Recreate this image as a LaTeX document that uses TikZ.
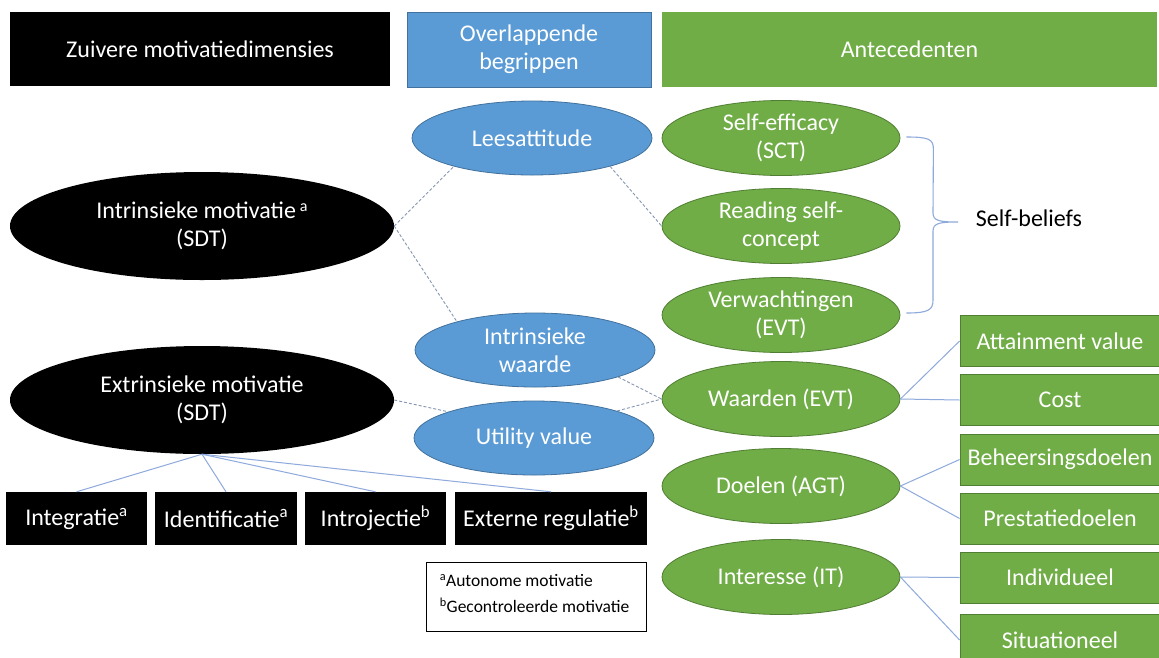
\documentclass[tikz,border=0pt]{standalone}
\usepackage{fontspec}
\setmainfont{Carlito}
\usetikzlibrary{shapes.geometric,calc}
\definecolor{bluef}{HTML}{5B9BD5}
\definecolor{blued}{HTML}{41719C}
\definecolor{greenf}{HTML}{70AD47}
\definecolor{greend}{HTML}{507E32}
\definecolor{linec}{HTML}{8EA9DB}
\definecolor{dashc}{HTML}{8497B0}
\begin{document}
\begin{tikzpicture}[x=1pt,y=-1pt,
  base/.style={font=\fontsize{24}{28}\selectfont, align=center, inner sep=0pt},
  blkbox/.style={base, rectangle, fill=black, text=white},
  hdrblue/.style={base, rectangle, fill=bluef, draw=blued, line width=0.8, text=white},
  hdrgreen/.style={base, rectangle, fill=greenf, text=white},
  blkell/.style={base, ellipse, fill=black, text=white, minimum width=384, minimum height=108},
  bell/.style={base, ellipse, fill=bluef, draw=blued, line width=0.8, text=white, minimum width=240, minimum height=74},
  gell/.style={base, ellipse, fill=greenf, draw=greend, line width=0.8, text=white, minimum width=238, minimum height=75},
  gbox/.style={base, rectangle, fill=greenf, draw=greend, line width=0.8, text=white, minimum width=200, minimum height=51},
  subbox/.style={base, rectangle, fill=black, text=white, minimum height=53},
  dashl/.style={draw=dashc, line width=0.9, dash pattern=on 3pt off 2pt},
  solidl/.style={draw=linec, line width=1},
  bracel/.style={draw=linec, line width=1.1}
]
\useasboundingbox (0,0) rectangle (1159,657);
\fill[white] (0,0) rectangle (1159,657);
\clip (0,0) rectangle (1159,657);

% headers
\node[blkbox, minimum width=380, minimum height=74] (h1) at (200,49) {Zuivere motivatiedimensies};
\node[hdrblue, minimum width=244, minimum height=75] (h2) at (529,49.5) {Overlappende\\begrippen};
\node[hdrgreen, minimum width=495, minimum height=75] (h3) at (909.5,49.5) {Antecedenten};

% blue ellipses
\node[bell] (la) at (532,138) {Leesattitude};
\node[bell] (iw) at (535,350) {Intrinsieke\\waarde};
\node[bell] (uv) at (534,438) {Utility value};

% black ellipses
\node[blkell] (im) at (202,226) {Intrinsieke motivatie\,{\fontsize{16}{16}\selectfont\raisebox{0.45em}{a}}\\(SDT)};
\node[blkell] (em) at (202,400) {Extrinsieke motivatie\\(SDT)};

% green ellipses
\node[gell] (se) at (781,138) {Self-efficacy\\(SCT)};
\node[gell] (rs) at (781,226) {Reading self-\\concept};
\node[gell] (vw) at (781,315) {Verwachtingen\\(EVT)};
\node[gell] (wd) at (781,399) {Waarden (EVT)};
\node[gell] (dl) at (781,486) {Doelen (AGT)};
\node[gell] (it) at (781,577) {Interesse (IT)};

% green boxes
\node[gbox] (av) at (1060,341) {Attainment value};
\node[gbox] (co) at (1060,400) {Cost};
\node[gbox] (bd) at (1060,459.5) {Beheersingsdoelen};
\node[gbox] (pd) at (1060,518.5) {Prestatiedoelen};
\node[gbox] (iv) at (1060,577.5) {Individueel};
\node[gbox] (si) at (1060,640) {Situationeel};

% black sub boxes
\node[subbox, minimum width=141] (ig) at (76.5,518.5) {Integratie\textsuperscript{a}};
\node[subbox, minimum width=142] (id) at (226,518.5) {Identificatie\textsuperscript{a}};
\node[subbox, minimum width=141] (ij) at (375.5,518.5) {Introjectie\textsuperscript{b}};
\node[subbox, minimum width=192] (er) at (551,518.5) {Externe regulatie\textsuperscript{b}};

% legend
\node[draw=black, line width=0.8, minimum width=220, minimum height=69, inner sep=0pt] (lg) at (536,596.5) {};
\node[anchor=west, inner sep=0pt, align=left, font=\fontsize{17.5}{26}\selectfont] (lgt) at ($(lg.west)+(14,-3)$) {\textsuperscript{a}Autonome motivatie\\\textsuperscript{b}Gecontroleerde motivatie};

% self-beliefs
\node[base] (sb) at (1029,218) {Self-beliefs};
\coordinate (bt) at ($(se.east)+(6,-1)$);
\coordinate (bb) at ($(vw.east)+(6,-2)$);
\draw[bracel] (bt) .. controls +(22,0) and +(0,-10) .. ++(27,12)
  -- (933,213) .. controls +(0,8) and +(-18,0) .. (958,222)
  .. controls +(-18,0) and +(0,-8) .. (933,231)
  -- (933,300) .. controls +(0,10) and +(22,0) .. (bb);

% dashed connectors
\draw[dashl] (im.east) -- (la.200);
\draw[dashl] (im.east) -- (iw.160);
\draw[dashl] (la.-20) -- (rs.west);
\draw[dashl] (em.east) -- (uv.163);
\draw[dashl] (iw.-18) -- (wd.west);
\draw[dashl] (uv.18) -- (wd.west);

% solid connectors
\draw[solidl] (em.south) -- (ig.north);
\draw[solidl] (em.south) -- (id.north);
\draw[solidl] (em.south) -- (ij.north);
\draw[solidl] (em.south) -- (er.north);
\draw[solidl] (wd.east) -- (av.west);
\draw[solidl] (wd.east) -- (co.west);
\draw[solidl] (dl.east) -- (bd.west);
\draw[solidl] (dl.east) -- (pd.west);
\draw[solidl] (it.east) -- (iv.west);
\draw[solidl] (it.east) -- (si.west);
\end{tikzpicture}
\end{document}
